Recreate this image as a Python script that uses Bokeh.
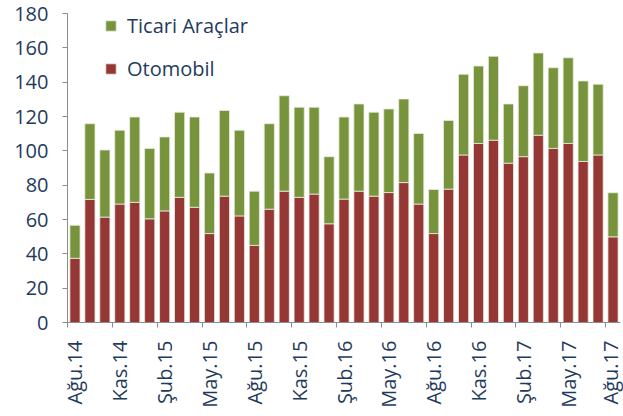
import math
from bokeh.plotting import figure
from bokeh.models import ColumnDataSource, FixedTicker, Range1d, Legend, LegendItem
from bokeh.embed import file_html
from bokeh.resources import INLINE

months = ["Ağu.14", "Eyl.14", "Eki.14", "Kas.14", "Ara.14", "Oca.15", "Şub.15", "Mar.15", "Nis.15",
          "May.15", "Haz.15", "Tem.15", "Ağu.15", "Eyl.15", "Eki.15", "Kas.15", "Ara.15", "Oca.16",
          "Şub.16", "Mar.16", "Nis.16", "May.16", "Haz.16", "Tem.16", "Ağu.16", "Eyl.16", "Eki.16",
          "Kas.16", "Ara.16", "Oca.17", "Şub.17", "Mar.17", "Nis.17", "May.17", "Haz.17", "Tem.17",
          "Ağu.17"]
otomobil = [37.4, 71.7, 61.4, 69.0, 70.0, 60.4, 65.0, 72.9, 67.1, 51.8, 73.6, 62.1, 44.9, 66.0,
            76.5, 72.9, 74.8, 57.5, 71.9, 76.5, 73.6, 75.7, 81.5, 69.0, 51.8, 77.7, 97.6, 104.3,
            106.2, 92.8, 96.6, 109.1, 101.4, 104.3, 93.8, 97.6, 49.9]
ticari = [19.2, 44.1, 39.1, 43.0, 49.7, 41.0, 43.1, 49.6, 52.6, 35.3, 49.9, 49.9, 31.6, 49.8,
          55.6, 52.5, 50.6, 39.1, 47.8, 50.8, 48.9, 48.7, 48.7, 41.1, 25.7, 40.0, 47.0, 45.1,
          48.9, 34.5, 41.3, 47.9, 47.0, 49.9, 46.9, 41.2, 25.7]
y_ticks = [0, 20, 40, 60, 80, 100, 120, 140, 160, 180]

RED = "#953735"
GREEN = "#77933C"
TEXT = "#1f3b5c"
AXIS = "#8c8c8c"
FONT = "Open Sans"
FS = "20px"

n = len(months)
xs = list(range(n))
src = ColumnDataSource(dict(x=xs, otomobil=otomobil, ticari=ticari))

p = figure(width=623, height=416, output_backend="svg", toolbar_location=None,
           x_range=Range1d(-0.5, n - 0.5), y_range=Range1d(0, 180),
           min_border_left=67, min_border_right=3, min_border_top=13, min_border_bottom=94)
p.outline_line_color = None
p.xgrid.visible = False
p.ygrid.visible = False

rs = p.vbar_stack(["otomobil", "ticari"], x="x", width=0.68, color=[RED, GREEN],
                  line_color="#e8ecdf", line_width=0.8, source=src)

legend = Legend(items=[LegendItem(label="Ticari Araçlar", renderers=[rs[1]]),
                       LegendItem(label="Otomobil", renderers=[rs[0]])],
                location=(37, 240), padding=0, margin=0, spacing=16,
                glyph_width=13, glyph_height=13, label_height=20,
                label_text_font=FONT, label_text_font_size=FS, label_text_color=TEXT,
                label_standoff=10, background_fill_alpha=0, border_line_color=None)
p.add_layout(legend)

label_pos = [i for i in xs if i % 3 == 0]
xa = p.xaxis[0]
xa.ticker = FixedTicker(ticks=label_pos, minor_ticks=[i - 0.5 for i in label_pos])
xa.major_label_overrides = {i: months[i] for i in label_pos}
xa.major_label_orientation = math.pi / 2
xa.major_tick_out = 0
xa.major_tick_in = 0
xa.minor_tick_out = 5
xa.minor_tick_in = 0
xa.minor_tick_line_color = AXIS
xa.axis_line_color = AXIS
xa.major_label_standoff = 13
xa.major_label_text_font = FONT
xa.major_label_text_font_size = FS
xa.major_label_text_color = TEXT

ya = p.yaxis[0]
ya.ticker = FixedTicker(ticks=y_ticks)
ya.major_tick_out = 5
ya.major_tick_in = 0
ya.minor_tick_line_color = None
ya.major_tick_line_color = AXIS
ya.axis_line_color = AXIS
ya.major_label_standoff = 14
ya.major_label_text_font = FONT
ya.major_label_text_font_size = FS
ya.major_label_text_color = TEXT

open("out.html", "w").write(file_html(p, INLINE))
